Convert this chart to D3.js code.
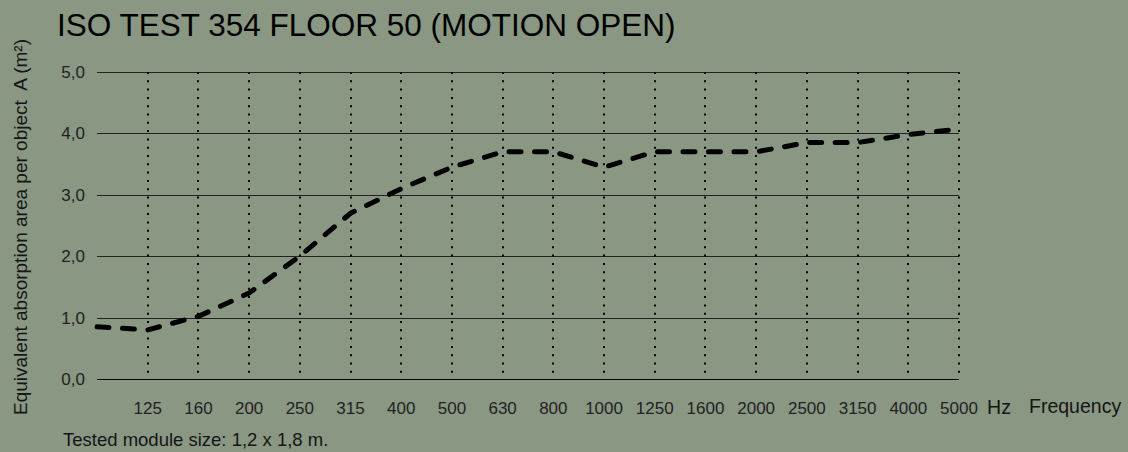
<!DOCTYPE html>
<html>
<head>
<meta charset="utf-8">
<script src="https://cdn.jsdelivr.net/npm/d3@7"></script>
<style>
  html, body { margin: 0; padding: 0; background: #8a9782; }
  svg { display: block; font-family: "Liberation Sans", Arial, sans-serif; }
</style>
</head>
<body>
<div id="chart"></div>
<script>
// ============================
// Data
// ============================

// third-octave bands, the first one (100 Hz) has no label in the original
const frequencies = ["100", "125", "160", "200", "250", "315", "400", "500", "630", "800",
                     "1000", "1250", "1600", "2000", "2500", "3150", "4000", "5000"];
const absorption = [0.85, 0.8, 1.02, 1.4, 2.0, 2.7, 3.1, 3.45, 3.7, 3.7,
                    3.45, 3.7, 3.7, 3.7, 3.85, 3.85, 3.98, 4.07];
const yTicks = [0, 1, 2, 3, 4, 5];
const hiddenLabels = ["100"];

const titleText = "ISO TEST 354 FLOOR 50 (MOTION OPEN)";
const yLabelText = "Equivalent absorption area per object  A (m²)";
const noteText = "Tested module size: 1,2 x 1,8 m.";

// ============================
// Intial setup
// ============================

const width = 1128;
const height = 452;
const ink = "#151515";

const svg = d3.select("#chart").append("svg")
  .attr("width", width)
  .attr("height", height)
  .attr("viewBox", [0, 0, width, height]);

const xscale = d3.scalePoint()
  .domain(frequencies)
  .range([97, 959]);

const yscale = d3.scaleLinear()
  .domain([0, 5])
  .range([379, 72]);

// ============================
// Grid
// ============================

// horizontal grid lines
svg.append("g")
  .selectAll("line")
  .data(yTicks)
  .join("line")
  .attr("x1", xscale.range()[0])
  .attr("x2", xscale.range()[1])
  .attr("y1", d => Math.round(yscale(d)) + 0.5)
  .attr("y2", d => Math.round(yscale(d)) + 0.5)
  .attr("stroke", d => d === 0 ? "#000" : "#222")
  .attr("stroke-width", 1.2);

// dotted verticals at every labelled band
svg.append("g")
  .selectAll("line")
  .data(frequencies.filter(f => !hiddenLabels.includes(f)))
  .join("line")
  .attr("x1", d => Math.round(xscale(d)))
  .attr("x2", d => Math.round(xscale(d)))
  .attr("y1", yscale(5))
  .attr("y2", yscale(0))
  .attr("stroke", "#000")
  .attr("stroke-width", 2)
  .attr("stroke-dasharray", "2,6.3");

// ============================
// Axes text
// ============================

// y tick labels
svg.append("g")
  .selectAll("text")
  .data(yTicks)
  .join("text")
  .attr("x", 85)
  .attr("y", d => yscale(d) + 6)
  .attr("text-anchor", "end")
  .attr("font-size", 17)
  .attr("fill", "#222")
  .text(d => d3.format(".1f")(d).replace(".", ","));

// x tick labels
svg.append("g")
  .selectAll("text")
  .data(frequencies.filter(f => !hiddenLabels.includes(f)))
  .join("text")
  .attr("x", d => xscale(d))
  .attr("y", 414)
  .attr("text-anchor", "middle")
  .attr("font-size", 17)
  .attr("fill", "#222")
  .text(d => d);

svg.append("text")
  .attr("x", 999)
  .attr("y", 414)
  .attr("text-anchor", "middle")
  .attr("font-size", 19.5)
  .attr("fill", ink)
  .text("Hz");

svg.append("text")
  .attr("x", 1029)
  .attr("y", 413)
  .attr("font-size", 19.5)
  .attr("fill", ink)
  .text("Frequency");

// y label, keep the double space before A
svg.append("text")
  .attr("transform", "translate(27,227) rotate(-90)")
  .attr("text-anchor", "middle")
  .attr("font-size", 19)
  .attr("fill", ink)
  .style("white-space", "pre")
  .text(yLabelText);

// title and note
svg.append("text")
  .attr("x", 57)
  .attr("y", 36)
  .attr("font-size", 31.5)
  .attr("fill", "#000")
  .text(titleText);

svg.append("text")
  .attr("x", 63)
  .attr("y", 446)
  .attr("font-size", 18.5)
  .attr("fill", ink)
  .text(noteText);

// ============================
// Measured curve
// ============================

const modelLine = d3.line()
  .x((d, i) => xscale(frequencies[i]))
  .y(d => yscale(d));

svg.append("path")
  .datum(absorption)
  .attr("d", modelLine)
  .attr("fill", "none")
  .attr("stroke", "#000")
  .attr("stroke-width", 5)
  .attr("stroke-linecap", "round")
  .attr("stroke-linejoin", "round")
  .attr("stroke-dasharray", "12,13.5");
</script>
</body>
</html>
